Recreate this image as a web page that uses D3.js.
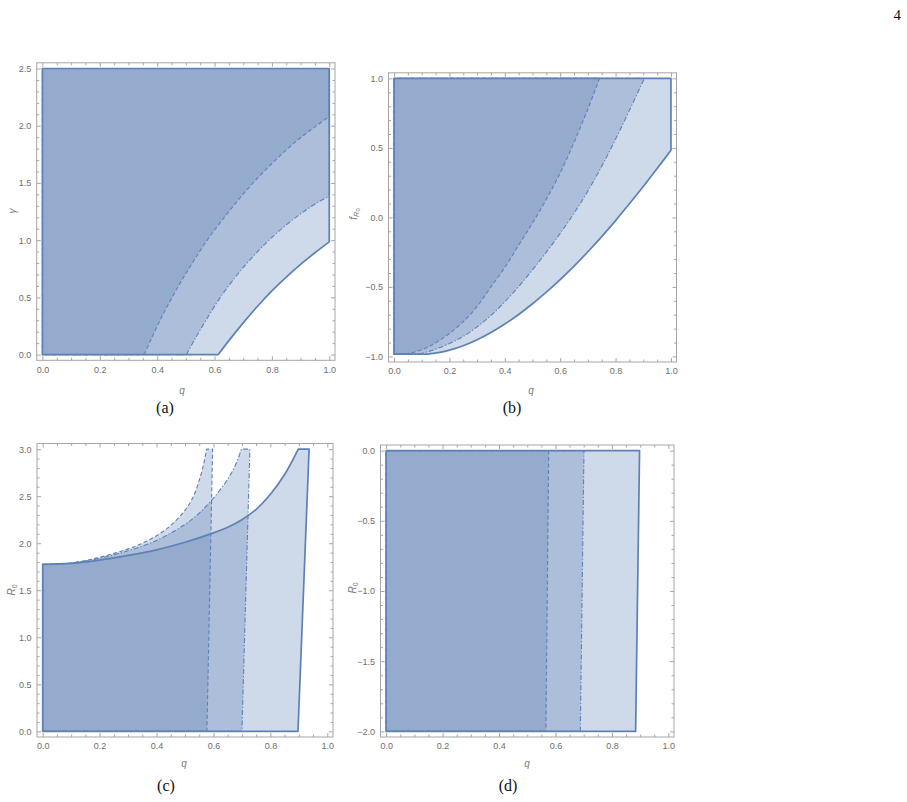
<!DOCTYPE html>
<html><head><meta charset="utf-8">
<script src="https://cdn.jsdelivr.net/npm/d3@7"></script>
<style>body{margin:0;background:#fff}</style>
</head><body>
<svg id="chart" width="907" height="802"></svg>
<script>
// ---------- shared ticks ----------
const qTicks = [0, 0.2, 0.4, 0.6, 0.8, 1.0];
const qLabels = ["0.0", "0.2", "0.4", "0.6", "0.8", "1.0"];

// ---------- panel (a): gamma vs q ----------
const aYTicks = [0, 0.5, 1.0, 1.5, 2.0, 2.5];
const aYLabels = ["0.0", "0.5", "1.0", "1.5", "2.0", "2.5"];
const aSolidQ = [0.613, 0.65, 0.70, 0.75, 0.80, 0.85, 0.90, 0.95, 1.00];
const aSolidG = [0, 0.122, 0.277, 0.422, 0.556, 0.677, 0.788, 0.89, 0.985];
const aDotDashQ = [0.502, 0.53, 0.57, 0.62, 0.68, 0.75, 0.82, 0.90, 0.96, 1.00];
const aDotDashG = [0, 0.13, 0.30, 0.50, 0.70, 0.90, 1.07, 1.23, 1.33, 1.385];
const aDashQ = [0.355, 0.38, 0.42, 0.47, 0.52, 0.58, 0.65, 0.72, 0.80, 0.88, 0.95, 1.00];
const aDashG = [0, 0.14, 0.35, 0.58, 0.79, 1.02, 1.25, 1.46, 1.67, 1.855, 1.99, 2.08];
const aBox = {q0: 0, q1: 1, v0: 0, v1: 2.5};

// ---------- panel (b): f_R0 vs q ----------
const bYTicks = [-1.0, -0.5, 0, 0.5, 1.0];
const bYLabels = ["\u22121.0", "\u22120.5", "0.0", "0.5", "1.0"];
const bSolidQ = [0.12, 0.16, 0.2, 0.25, 0.3, 0.35, 0.4, 0.45, 0.5, 0.55, 0.6, 0.65, 0.7, 0.75, 0.8, 0.85, 0.9, 0.95, 1.0];
const bSolidF = [-0.983, -0.973, -0.955, -0.923, -0.88, -0.828, -0.767, -0.698, -0.621, -0.538, -0.448, -0.351, -0.247, -0.138, -0.023, 0.098, 0.222, 0.351, 0.483];
const bDotDashQ = [0.09, 0.14, 0.2, 0.25, 0.3, 0.35, 0.4, 0.45, 0.5, 0.55, 0.6, 0.65, 0.7, 0.75, 0.8, 0.85, 0.904];
const bDotDashF = [-0.983, -0.955, -0.907, -0.855, -0.787, -0.705, -0.607, -0.497, -0.377, -0.25, -0.115, 0.03, 0.19, 0.368, 0.563, 0.77, 1.0];
const bDashQ = [0.04, 0.08, 0.12, 0.16, 0.2, 0.25, 0.3, 0.35, 0.4, 0.45, 0.5, 0.55, 0.6, 0.65, 0.7, 0.742];
const bDashF = [-0.983, -0.965, -0.935, -0.89, -0.835, -0.75, -0.64, -0.5, -0.36, -0.2, -0.04, 0.13, 0.32, 0.54, 0.78, 1.0];
const bBox = {q0: 0, q1: 1, v0: -0.983, v1: 1.0};

// ---------- panel (c): R0 vs q ----------
const cYTicks = [0, 0.5, 1.0, 1.5, 2.0, 2.5, 3.0];
const cYLabels = ["0.0", "0.5", "1.0", "1.5", "2.0", "2.5", "3.0"];
const cSolidQ = [0, 0.1, 0.2, 0.3, 0.4, 0.5, 0.6, 0.65, 0.7, 0.75, 0.8, 0.85, 0.898];
const cSolidR = [1.775, 1.785, 1.82, 1.87, 1.93, 2.01, 2.11, 2.17, 2.25, 2.36, 2.52, 2.73, 3.0];
const cSolidEdgeQ = [0.936, 0.897];   // top-right corner, bottom-right corner
const cDotDashQ = [0, 0.1, 0.2, 0.3, 0.4, 0.5, 0.55, 0.6, 0.65, 0.68, 0.698];
const cDotDashR = [1.775, 1.79, 1.84, 1.92, 2.03, 2.2, 2.32, 2.48, 2.68, 2.85, 3.0];
const cDotDashEdgeQ = [0.728, 0.70];
const cDashQ = [0, 0.1, 0.2, 0.3, 0.35, 0.4, 0.45, 0.5, 0.53, 0.555, 0.567, 0.576];
const cDashR = [1.775, 1.79, 1.85, 1.94, 2.0, 2.08, 2.19, 2.35, 2.5, 2.72, 2.86, 3.0];
const cDashEdgeQ = [0.597, 0.577];
const cBox = {v0: 0, v1: 3.0};

// ---------- panel (d): R0 vs q ----------
const dYTicks = [-2.0, -1.5, -1.0, -0.5, 0];
const dYLabels = ["\u22122.0", "\u22121.5", "\u22121.0", "\u22120.5", "0.0"];
const dSolidEdgeQ = [0.898, 0.884];    // at R0 = 0, at R0 = -2
const dDotDashEdgeQ = [0.701, 0.688];
const dDashEdgeQ = [0.576, 0.566];
const dBox = {v0: -2.0, v1: 0};

// ---------- drawing ----------
const svg = d3.select("#chart");
svg.append("rect").attr("width", 907).attr("height", 802).attr("fill", "#fff");
const BLUE = "#5E81B5";
const FRAME = "#a6a6a6";
const styles = {
  solid:   {w: 1.7, dash: null},
  dotdash: {w: 1.1, dash: "5,2,1.3,2"},
  dash:    {w: 1.1, dash: "4,2.5"}
};
const zip = (a, b) => a.map((v, i) => [v, b[i]]);

function regionPath(x, y, curvePts, tailPts, smooth) {
  const lc = d3.line().x(d => x(d[0])).y(d => y(d[1]))
    .curve(smooth ? d3.curveCatmullRom.alpha(0.5) : d3.curveLinear);
  const ll = d3.line().x(d => x(d[0])).y(d => y(d[1]));
  return lc(curvePts) + "L" + ll(tailPts).slice(1) + "Z";
}

function panel(p) {
  const g = svg.append("g");
  const x = d3.scaleLinear().domain([-0.02, 1.02]).range([p.L, p.R]);
  const yd = p.yDomain, pad = (yd[1] - yd[0]) * 0.02;
  const y = d3.scaleLinear().domain([yd[0] - pad, yd[1] + pad]).range([p.B, p.T]);

  const regs = p.regions(x, y);
  regs.forEach(r => g.append("path").attr("d", r.d)
    .attr("fill", BLUE).attr("fill-opacity", 0.3).attr("stroke", "none"));
  ["dash", "dotdash", "solid"].forEach(k => {
    regs.filter(r => r.style === k).forEach(r => {
      const s = styles[k];
      const path = g.append("path").attr("d", r.d).attr("fill", "none")
        .attr("stroke", BLUE).attr("stroke-width", s.w).attr("stroke-linejoin", "round");
      if (s.dash) path.attr("stroke-dasharray", s.dash);
    });
  });

  g.append("rect").attr("x", p.L).attr("y", p.T).attr("width", p.R - p.L).attr("height", p.B - p.T)
    .attr("fill", "none").attr("stroke", FRAME).attr("stroke-width", 1);

  const xMinor = x.ticks(20).filter(v => !qTicks.some(t => Math.abs(t - v) < 1e-9));
  const yMinor = y.ticks(p.yMinorCount).filter(v => !p.yTicks.some(t => Math.abs(t - v) < 1e-9));
  const style = sel => {
    sel.select(".domain").remove();
    sel.selectAll(".tick line").attr("stroke", FRAME);
    sel.selectAll(".tick text").attr("fill", "#6e6e6e")
      .style("font-family", "'Liberation Sans', Arial, sans-serif").style("font-size", "9px");
  };
  const add = (tr, axis) => g.append("g").attr("transform", tr).call(axis).call(style);

  add(`translate(0,${p.B})`, d3.axisBottom(x).tickValues(qTicks).tickFormat((d, i) => qLabels[i]).tickSize(-4).tickPadding(6));
  add(`translate(0,${p.B})`, d3.axisBottom(x).tickValues(xMinor).tickFormat("").tickSize(-2.5));
  add(`translate(0,${p.T})`, d3.axisTop(x).tickValues(qTicks).tickFormat("").tickSize(-4));
  add(`translate(0,${p.T})`, d3.axisTop(x).tickValues(xMinor).tickFormat("").tickSize(-2.5));
  add(`translate(${p.L},0)`, d3.axisLeft(y).tickValues(p.yTicks).tickFormat((d, i) => p.yLabels[i]).tickSize(-4).tickPadding(5.5));
  add(`translate(${p.L},0)`, d3.axisLeft(y).tickValues(yMinor).tickFormat("").tickSize(-2.5));
  add(`translate(${p.R},0)`, d3.axisRight(y).tickValues(p.yTicks).tickFormat("").tickSize(-4));
  add(`translate(${p.R},0)`, d3.axisRight(y).tickValues(yMinor).tickFormat("").tickSize(-2.5));

  const lab = "font-family:'Liberation Sans',Arial,sans-serif;fill:#7a7a7a;";
  g.append("text").attr("x", p.qLab[0]).attr("y", p.qLab[1]).attr("text-anchor", "middle")
    .attr("style", lab + "font-size:10px;font-style:italic").text("q");
  const yl = g.append("text").attr("transform", `translate(${p.yLab[0]},${p.yLab[1]}) rotate(-90)`)
    .attr("text-anchor", "middle").attr("dy", "0.35em").attr("style", lab + "font-size:10px");
  p.yLabelFn(yl);

  svg.append("text").attr("x", p.cap[0]).attr("y", p.cap[1]).attr("text-anchor", "middle")
    .attr("style", "font-family:'Liberation Serif','DejaVu Serif',serif;font-size:16px;fill:#111")
    .text(p.caption);
}

// (a)
panel({
  L: 36.7, R: 335, T: 62.8, B: 360.3, yDomain: [0, 2.5], yTicks: aYTicks, yLabels: aYLabels, yMinorCount: 26,
  qLab: [182, 393.5], yLab: [12, 211], cap: [165, 413], caption: "(a)",
  yLabelFn: t => t.append("tspan").style("font-style", "italic").text("\u03B3"),
  regions: (x, y) => [
    {style: "solid", d: regionPath(x, y, zip(aSolidQ, aSolidG), [[aBox.q1, aBox.v1], [aBox.q0, aBox.v1], [aBox.q0, aBox.v0]], true)},
    {style: "dotdash", d: regionPath(x, y, zip(aDotDashQ, aDotDashG), [[aBox.q1, aBox.v1], [aBox.q0, aBox.v1], [aBox.q0, aBox.v0]], true)},
    {style: "dash", d: regionPath(x, y, zip(aDashQ, aDashG), [[aBox.q1, aBox.v1], [aBox.q0, aBox.v1], [aBox.q0, aBox.v0]], true)}
  ]
});

// (b)
panel({
  L: 388.5, R: 676.5, T: 72.8, B: 362, yDomain: [-1, 1], yTicks: bYTicks, yLabels: bYLabels, yMinorCount: 20,
  qLab: [531, 393.5], yLab: [353, 214], cap: [512, 413], caption: "(b)",
  yLabelFn: t => {
    t.append("tspan").style("font-style", "italic").text("f");
    t.append("tspan").style("font-style", "italic").attr("font-size", "7.5px").attr("dy", "2").text("R");
    t.append("tspan").attr("font-size", "6px").attr("dy", "1.5").text("0");
  },
  regions: (x, y) => [
    {style: "solid", d: regionPath(x, y, zip(bSolidQ, bSolidF), [[bBox.q1, bBox.v1], [bBox.q0, bBox.v1], [bBox.q0, bBox.v0]], true)},
    {style: "dotdash", d: regionPath(x, y, zip(bDotDashQ, bDotDashF), [[bBox.q0, bBox.v1], [bBox.q0, bBox.v0]], true)},
    {style: "dash", d: regionPath(x, y, zip(bDashQ, bDashF), [[bBox.q0, bBox.v1], [bBox.q0, bBox.v0]], true)}
  ]
});

// (c)
const cLabelFn = t => {
  t.append("tspan").style("font-style", "italic").text("R");
  t.append("tspan").attr("font-size", "7px").attr("dy", "2.5").text("0");
};
panel({
  L: 37, R: 333, T: 443.5, B: 737, yDomain: [0, 3], yTicks: cYTicks, yLabels: cYLabels, yMinorCount: 30,
  qLab: [184, 767], yLab: [11, 590], cap: [166, 791], caption: "(c)",
  yLabelFn: cLabelFn,
  regions: (x, y) => [
    {style: "solid", d: regionPath(x, y, zip(cSolidQ, cSolidR), [[cSolidEdgeQ[0], cBox.v1], [cSolidEdgeQ[1], cBox.v0], [0, cBox.v0]], true)},
    {style: "dotdash", d: regionPath(x, y, zip(cDotDashQ, cDotDashR), [[cDotDashEdgeQ[0], cBox.v1], [cDotDashEdgeQ[1], cBox.v0], [0, cBox.v0]], true)},
    {style: "dash", d: regionPath(x, y, zip(cDashQ, cDashR), [[cDashEdgeQ[0], cBox.v1], [cDashEdgeQ[1], cBox.v0], [0, cBox.v0]], true)}
  ]
});

// (d)
panel({
  L: 380.5, R: 674, T: 445, B: 737, yDomain: [-2, 0], yTicks: dYTicks, yLabels: dYLabels, yMinorCount: 20,
  qLab: [527, 767], yLab: [352, 588], cap: [508, 791], caption: "(d)",
  yLabelFn: cLabelFn,
  regions: (x, y) => [
    {style: "solid", d: regionPath(x, y, [[0, dBox.v1], [dSolidEdgeQ[0], dBox.v1]], [[dSolidEdgeQ[1], dBox.v0], [0, dBox.v0]], false)},
    {style: "dotdash", d: regionPath(x, y, [[0, dBox.v1], [dDotDashEdgeQ[0], dBox.v1]], [[dDotDashEdgeQ[1], dBox.v0], [0, dBox.v0]], false)},
    {style: "dash", d: regionPath(x, y, [[0, dBox.v1], [dDashEdgeQ[0], dBox.v1]], [[dDashEdgeQ[1], dBox.v0], [0, dBox.v0]], false)}
  ]
});

svg.append("text").attr("x", 901).attr("y", 20).attr("text-anchor", "end")
  .attr("style", "font-family:'Liberation Serif','DejaVu Serif',serif;font-size:15px;fill:#111").text("4");
</script>
</body></html>
